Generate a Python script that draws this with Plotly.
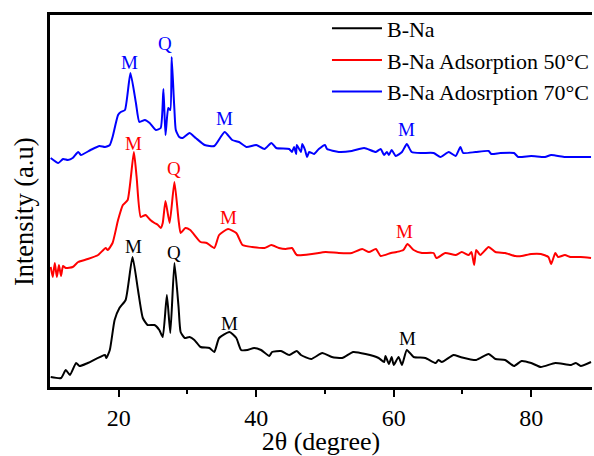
import plotly.graph_objects as go

# ---------------- data (a.u. with vertical offsets as drawn) -------------
bna_x = [10.1, 11.6, 12.3, 12.9, 13.8, 14.3, 15.5, 18.0, 18.2, 18.7, 19.4, 20.1, 21.0, 22.0, 22.8,
         23.5, 24.2, 25.2, 25.9, 26.4, 27.0, 27.5, 28.1, 28.7, 29.0, 29.6, 30.3, 31.0, 31.9, 33.2,
         33.9, 34.6, 36.1, 37.1, 37.8, 38.7, 39.7, 40.7, 41.9, 42.3, 43.6, 44.8, 45.9, 46.5, 48.0,
         49.6, 51.0, 52.5, 54.1, 55.9, 57.8, 58.6, 58.8, 59.3, 59.7, 60.0, 60.7, 61.2, 61.9, 62.9,
         64.6, 66.1, 66.5, 67.0, 68.7, 69.7, 72.0, 73.8, 74.8, 76.2, 77.5, 78.6, 80.0, 81.4, 83.5,
         85.8, 86.5, 87.2, 88.7]
bna_y = [10, 9, 17, 12, 24, 21, 24, 32, 29, 37, 67, 79, 87, 130, 97,
         69, 62, 62, 57, 50, 92, 54, 124, 80, 55, 49, 50, 47, 40, 39,
         35, 49, 55, 49, 37, 37, 39, 37, 31, 35, 36, 32, 36, 32, 28,
         34, 30, 29, 35, 33, 29, 25, 31, 23, 30, 22, 30, 22, 37, 30,
         29, 24, 27, 25, 32, 30, 27, 33, 28, 27, 21, 26, 24, 20, 24,
         22, 24, 21, 25]

ads50_x = [10.1, 10.4, 10.7, 11.0, 11.3, 11.6, 11.9, 12.3, 13.3, 14.1, 15.5, 17.0, 18.1, 18.4, 19.1,
           19.9, 20.6, 21.3, 22.2, 22.6, 23.2, 23.9, 24.6, 25.2, 25.7, 26.1, 26.4, 26.8, 27.4, 28.1,
           28.7, 29.0, 29.7, 30.4, 31.9, 32.8, 33.9, 34.6, 35.9, 37.1, 38.0, 39.4, 41.2, 42.2, 43.3,
           44.3, 45.2, 45.9, 48.1, 50.1, 52.0, 53.9, 55.4, 56.4, 57.4, 58.1, 59.6, 60.4, 61.4, 62.0,
           62.9, 64.1, 65.8, 66.2, 67.5, 69.0, 69.9, 70.9, 71.3, 71.7, 72.0, 72.6, 73.8, 74.8, 76.2,
           77.7, 78.6, 80.0, 81.4, 82.5, 82.9, 83.5, 83.9, 84.9, 85.7, 87.2, 88.7]
ads50_y = [120, 110, 124, 110, 122, 111, 121, 119, 120, 125, 128, 132, 139, 137, 144,
           167, 182, 187, 235, 210, 170, 172, 167, 164, 162, 159, 164, 186, 164, 205,
           167, 154, 159, 157, 145, 144, 139, 152, 158, 154, 142, 140, 139, 142, 139,
           138, 139, 132, 133, 135, 134, 134, 138, 135, 138, 131, 134, 135, 137, 143,
           137, 134, 134, 129, 134, 132, 135, 132, 135, 122, 137, 132, 140, 135, 134,
           131, 131, 133, 133, 130, 123, 134, 130, 132, 130, 130, 129]

ads70_x = [10.1, 11.2, 11.9, 12.6, 13.3, 14.1, 14.5, 15.9, 17.2, 18.0, 18.7, 19.1, 19.9, 20.3, 20.9,
           21.7, 22.5, 23.0, 23.8, 24.5, 25.4, 26.1, 26.5, 26.8, 27.2, 27.5, 27.7, 28.0, 28.1, 28.3,
           28.8, 29.3, 30.3, 31.2, 32.5, 33.9, 35.4, 36.5, 37.5, 38.6, 40.0, 41.2, 42.2, 42.9, 44.8,
           45.2, 45.5, 45.8, 45.9, 46.5, 46.7, 47.1, 47.4, 47.7, 48.4, 49.1, 50.0, 50.3, 52.0, 53.9,
           55.7, 57.4, 58.1, 58.6, 59.0, 59.3, 59.7, 60.3, 61.2, 61.9, 62.6, 64.1, 65.8, 66.8, 68.0,
           69.0, 69.7, 70.1, 71.9, 73.8, 74.2, 75.5, 77.5, 78.1, 80.0, 82.0, 82.9, 84.9, 86.4, 88.7]
ads70_y = [229, 224, 228, 227, 229, 235, 232, 237, 241, 240, 242, 250, 272, 275, 277,
           314, 284, 265, 267, 264, 257, 259, 298, 252, 279, 277, 330, 290, 277, 257,
           250, 249, 254, 249, 242, 241, 255, 247, 245, 240, 242, 238, 244, 239, 238,
           235, 240, 233, 242, 235, 243, 237, 230, 235, 233, 238, 242, 238, 235, 236,
           239, 235, 238, 232, 235, 232, 237, 231, 235, 243, 235, 234, 234, 230, 235,
           231, 240, 234, 235, 236, 233, 234, 234, 230, 231, 230, 232, 230, 230, 230]

series_names = ["B-Na", "B-Na Adsorption 50°C", "B-Na Adosrption 70°C"]
series_colors = ["#000000", "#ff0000", "#0000ff"]

# peak labels: (series index, label, 2theta, label height in a.u.)
peak_labels = [
    (2, "M", 21.6, 325), (2, "Q", 26.8, 344), (2, "M", 35.4, 269), (2, "M", 61.9, 258),
    (1, "M", 22.2, 244), (1, "Q", 28.0, 219), (1, "M", 35.9, 170), (1, "M", 61.6, 156),
    (0, "M", 22.2, 141), (0, "Q", 28.0, 135), (0, "M", 36.1, 64), (0, "M", 62.0, 49),
]

x_ticks = [20, 40, 60, 80]

FONT = "Liberation Serif"

fig = go.Figure()
for xs, ys, name, col in [(bna_x, bna_y, series_names[0], series_colors[0]),
                          (ads50_x, ads50_y, series_names[1], series_colors[1]),
                          (ads70_x, ads70_y, series_names[2], series_colors[2])]:
    fig.add_trace(go.Scatter(x=xs, y=ys, mode="lines", name=name,
                             line=dict(color=col, width=2, shape="spline", smoothing=0.5)))

for si, lab, px, py in peak_labels:
    fig.add_annotation(x=px, y=py, text=lab, showarrow=False,
                       font=dict(family=FONT, size=19, color=series_colors[si]))

fig.add_annotation(text="Intensity (a.u)", xref="paper", yref="paper",
                   x=(24 - 50) / 544, y=1 - (212 - 15) / 372, textangle=-90,
                   showarrow=False, xanchor="center", yanchor="middle",
                   font=dict(family=FONT, size=26.5, color="black"))

fig.update_layout(
    width=594, height=456,
    margin=dict(l=50, r=0, t=15, b=69),
    paper_bgcolor="white", plot_bgcolor="white",
    font=dict(family=FONT, color="black"),
    showlegend=True,
    legend=dict(x=(328 - 50) / 544, y=1.02, xanchor="left", yanchor="top",
                font=dict(family=FONT, size=22, color="black"),
                bgcolor="rgba(0,0,0,0)", itemwidth=50, tracegroupgap=0),
    xaxis=dict(range=[10, 88.84], showline=True, linewidth=2.5, linecolor="black",
               mirror=True, showgrid=False, zeroline=False,
               tickmode="array", tickvals=x_ticks, ticks="outside", ticklen=7, tickwidth=2,
               tickcolor="black", tickfont=dict(family=FONT, size=24, color="black"),
               minor=dict(ticks="outside", ticklen=4, tickwidth=2, tickcolor="black",
                          tickvals=[30, 50, 70], showgrid=False),
               title=dict(text="2θ (degree)", font=dict(family=FONT, size=26, color="black"),
                          standoff=4)),
    yaxis=dict(range=[0, 372], showline=True, linewidth=2.5, linecolor="black",
               mirror=False, showgrid=False, zeroline=False, showticklabels=False,
               ticks=""),
)

fig.write_html("out.html")
